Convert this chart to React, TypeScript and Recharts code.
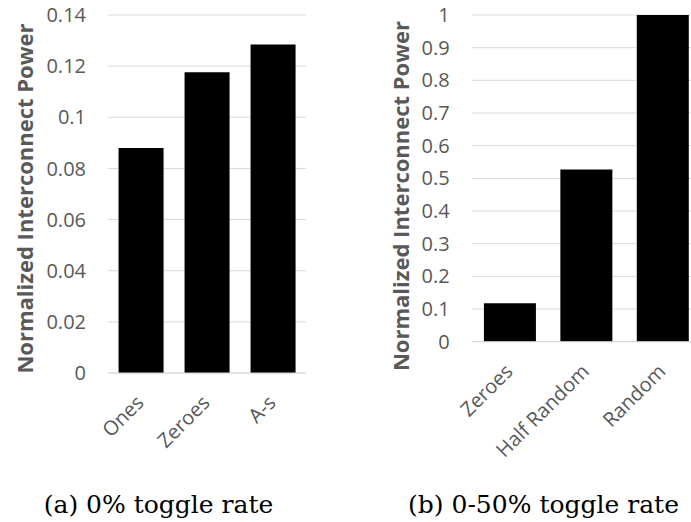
import React from 'react';
import { BarChart, Bar, XAxis, YAxis, CartesianGrid, Label } from 'recharts';

const leftCategories = ['Ones', 'Zeroes', 'A-s'];
const leftValues = [0.088, 0.1176, 0.1285];
const leftTicks = [0, 0.02, 0.04, 0.06, 0.08, 0.1, 0.12, 0.14];

const rightCategories = ['Zeroes', 'Half Random', 'Random'];
const rightValues = [0.1175, 0.527, 1.0];
const rightTicks = [0, 0.1, 0.2, 0.3, 0.4, 0.5, 0.6, 0.7, 0.8, 0.9, 1];

const yLabelText = 'Normalized Interconnect Power';
const captionA = '(a) 0% toggle rate';
const captionB = '(b) 0-50% toggle rate';

const leftData = leftCategories.map((name, i) => ({ name, value: leftValues[i] }));
const rightData = rightCategories.map((name, i) => ({ name, value: rightValues[i] }));

const GRAY = '#595959';
const GRID = '#d9d9d9';
const SANS = '"Open Sans", "Noto Sans", sans-serif';

const XTick = (props: any) => {
  const { x, y, payload } = props;
  const ax = x + 4;
  const ay = y + 31;
  return (
    <text
      x={ax}
      y={ay}
      transform={`rotate(-45, ${ax}, ${ay})`}
      textAnchor="end"
      fill={GRAY}
      fontSize={20}
      fontFamily={SANS}
    >
      {payload.value}
    </text>
  );
};

const makeYLabel = (dxBase: number, cy: number) => (props: any) => {
  const vb = props.viewBox || { x: 0, y: 0 };
  const x = vb.x + dxBase;
  const y = cy;
  return (
    <text
      x={x}
      y={y}
      transform={`rotate(-90, ${x}, ${y})`}
      textAnchor="middle"
      fill={GRAY}
      fontSize={22}
      fontWeight="bold"
      fontFamily={SANS}
    >
      {yLabelText}
    </text>
  );
};

export default function App() {
  return (
    <div
      style={{
        position: 'absolute',
        left: 0,
        top: 0,
        width: 691,
        height: 522,
        overflow: 'hidden',
        background: '#fff',
      }}
    >
      <div style={{ position: 'absolute', left: 0, top: 0 }}>
        <BarChart
          width={320}
          height={470}
          data={leftData}
          margin={{ top: 15, right: 14, bottom: 0, left: 0 }}
          barCategoryGap="16%"
        >
          <CartesianGrid vertical={false} stroke={GRID} strokeWidth={1} />
          <XAxis
            dataKey="name"
            height={97}
            tickLine={false}
            tickSize={0}
            tickMargin={0}
            axisLine={{ stroke: GRID, strokeWidth: 1 }}
            tick={<XTick />}
            interval={0}
          />
          <YAxis
            width={108}
            domain={[0, 0.14]}
            ticks={leftTicks}
            axisLine={false}
            tickLine={false}
            tickSize={0}
            tickMargin={22}
            interval={0}
            tick={{ fill: GRAY, fontSize: 20, fontFamily: SANS }}
          >
            <Label content={makeYLabel(33, 198.5)} />
          </YAxis>
          <Bar dataKey="value" fill="#000" isAnimationActive={false} />
        </BarChart>
      </div>
      <div style={{ position: 'absolute', left: 345, top: 0 }}>
        <BarChart
          width={356}
          height={470}
          data={rightData}
          margin={{ top: 15, right: 0, bottom: 0, left: 0 }}
          barCategoryGap="16%"
        >
          <CartesianGrid vertical={false} stroke={GRID} strokeWidth={1} />
          <XAxis
            dataKey="name"
            height={128.3}
            tickLine={false}
            tickSize={0}
            tickMargin={0}
            axisLine={{ stroke: GRID, strokeWidth: 1 }}
            tick={<XTick />}
            interval={0}
          />
          <YAxis
            width={126.7}
            domain={[0, 1]}
            ticks={rightTicks}
            axisLine={false}
            tickLine={false}
            tickSize={0}
            tickMargin={22}
            interval={0}
            tick={{ fill: GRAY, fontSize: 20, fontFamily: SANS }}
          >
            <Label content={makeYLabel(64, 196)} />
          </YAxis>
          <Bar dataKey="value" fill="#000" isAnimationActive={false} />
        </BarChart>
      </div>
      <svg
        width={691}
        height={522}
        style={{ position: 'absolute', left: 0, top: 0, pointerEvents: 'none' }}
      >
        <text x={158.5} y={513} textAnchor="middle" fontSize={25} fontFamily='"DejaVu Serif", serif' fill="#000">
          {captionA}
        </text>
        <text x={543.5} y={513} textAnchor="middle" fontSize={25} fontFamily='"DejaVu Serif", serif' fill="#000">
          {captionB}
        </text>
      </svg>
    </div>
  );
}
